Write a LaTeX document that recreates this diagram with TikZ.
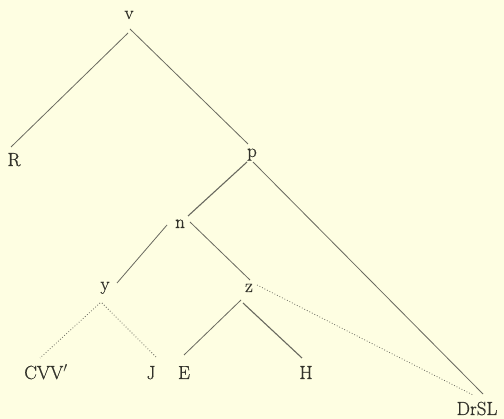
\documentclass[tikz,border=0pt]{standalone}
\usepackage{fontspec}
\usetikzlibrary{calc}
\newfontfamily\heavyfont{Latin Modern Roman}[FakeBold=0.6]
\definecolor{paper}{RGB}{254,254,226}
\definecolor{ink}{RGB}{50,50,42}
\definecolor{linec}{RGB}{105,105,95}
\begin{document}
\begin{tikzpicture}[x=1pt,y=-1pt,
  lbl/.style={anchor=base,inner sep=0pt,text=ink,font=\heavyfont\fontsize{19}{21}\selectfont},
  edge/.style={draw=linec,line width=0.8pt},
  dotedge/.style={draw=linec,line width=0.8pt,dotted}]
\fill[paper] (0,0) rectangle (504,419);
\useasboundingbox (0,0) rectangle (504,419);
\node[lbl] (v) at (129,19) {v};
\node[lbl] (R) at (14,166) {R};
\node[lbl] (p) at (252,157) {p};
\node[lbl] (n) at (180,228) {n};
\node[lbl] (y) at (105,290) {y};
\node[lbl] (z) at (249,292) {z};
\node[lbl] (C) at (46,379) {CVV$'$};
\node[lbl] (J) at (151,379) {J};
\node[lbl] (E) at (184,379) {E};
\node[lbl] (H) at (306,379) {H};
\node[lbl] (D) at (477,415) {DrSL};
\draw[edge] ($(v.base)+(-1,14)$) -- ($(R.base)+(-3,-19)$);
\draw[edge] ($(v.base)+(1,10)$) -- ($(p.base)+(-4,-13)$);
\draw[edge,line width=1.1pt] ($(p.base)+(-5,5)$) -- ($(n.base)+(8,-12)$);
\draw[edge] ($(p.base)+(1,5)$) -- ($(D.base)+(6,-21)$);
\draw[edge] ($(n.base)+(-13,-3)$) -- ($(y.base)+(12,-7)$);
\draw[edge] ($(n.base)+(10,-6)$) -- ($(z.base)+(1,-12)$);
\draw[dotedge] ($(y.base)+(-5,13)$) -- ($(C.base)+(-6,-21)$);
\draw[dotedge] ($(y.base)+(-3,13)$) -- ($(J.base)+(5,-22)$);
\draw[edge] ($(z.base)+(-8,8)$) -- ($(E.base)+(0,-24)$);
\draw[edge,line width=1.1pt] ($(z.base)+(-6,11)$) -- ($(H.base)+(-4,-21)$);
\draw[dotedge] ($(z.base)+(8,-7)$) -- ($(D.base)+(-4,-20)$);
\end{tikzpicture}
\end{document}
